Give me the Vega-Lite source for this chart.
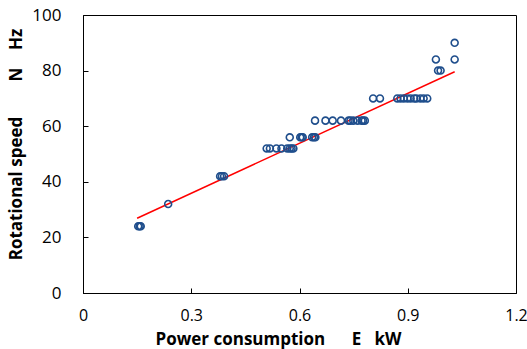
{
  "$schema": "https://vega.github.io/schema/vega-lite/v6.json",
  "autosize": {"type": "none"},
  "width": 433,
  "height": 278,
  "padding": {"left": 83, "top": 15, "right": 11, "bottom": 56},
  "background": "white",
  "config": {
    "view": {"stroke": "black", "strokeWidth": 1},
    "font": "Open Sans"
  },
  "datasets": {
    "pts": [
      {"E": 0.153, "N": 24}, {"E": 0.157, "N": 24}, {"E": 0.160, "N": 24},
      {"E": 0.236, "N": 32},
      {"E": 0.380, "N": 42}, {"E": 0.385, "N": 42}, {"E": 0.391, "N": 42},
      {"E": 0.509, "N": 52}, {"E": 0.518, "N": 52}, {"E": 0.536, "N": 52}, {"E": 0.550, "N": 52},
      {"E": 0.566, "N": 52}, {"E": 0.573, "N": 52}, {"E": 0.578, "N": 52}, {"E": 0.583, "N": 52},
      {"E": 0.573, "N": 56},
      {"E": 0.602, "N": 56}, {"E": 0.606, "N": 56}, {"E": 0.609, "N": 56},
      {"E": 0.635, "N": 56}, {"E": 0.640, "N": 56}, {"E": 0.644, "N": 56},
      {"E": 0.643, "N": 62}, {"E": 0.672, "N": 62}, {"E": 0.692, "N": 62}, {"E": 0.715, "N": 62},
      {"E": 0.736, "N": 62}, {"E": 0.741, "N": 62}, {"E": 0.749, "N": 62}, {"E": 0.761, "N": 62},
      {"E": 0.772, "N": 62}, {"E": 0.776, "N": 62}, {"E": 0.781, "N": 62},
      {"E": 0.804, "N": 70}, {"E": 0.823, "N": 70},
      {"E": 0.871, "N": 70}, {"E": 0.880, "N": 70}, {"E": 0.889, "N": 70}, {"E": 0.899, "N": 70},
      {"E": 0.908, "N": 70}, {"E": 0.918, "N": 70}, {"E": 0.924, "N": 70}, {"E": 0.935, "N": 70},
      {"E": 0.944, "N": 70}, {"E": 0.954, "N": 70},
      {"E": 0.978, "N": 84},
      {"E": 0.984, "N": 80}, {"E": 0.991, "N": 80},
      {"E": 1.030, "N": 90}, {"E": 1.030, "N": 84}
    ],
    "fit": [
      {"E": 0.150, "N": 26.9},
      {"E": 1.030, "N": 79.6}
    ]
  },
  "layer": [
    {
      "data": {"name": "fit"},
      "mark": {"type": "line", "color": "#FF0000", "strokeWidth": 1.5},
      "encoding": {
        "x": {"field": "E", "type": "quantitative"},
        "y": {"field": "N", "type": "quantitative"}
      }
    },
    {
      "data": {"name": "pts"},
      "mark": {"type": "point", "shape": "circle", "filled": false, "color": "#1F4E8C", "strokeWidth": 1.6, "size": 48, "opacity": 1},
      "encoding": {
        "x": {
          "field": "E", "type": "quantitative",
          "scale": {"domain": [0, 1.2], "nice": false, "zero": false},
          "axis": {
            "values": [0, 0.3, 0.6, 0.9, 1.2],
            "labelExpr": "datum.value == 0 ? '0' : format(datum.value, '.1f')",
            "grid": false,
            "domainColor": "black",
            "tickColor": "black",
            "tickSize": -5,
            "labelPadding": 19,
            "labelFontSize": 16,
            "labelColor": "black",
            "labelFlush": false,
            "labelOverlap": false,
            "title": "Power consumption\u00a0\u00a0\u00a0\u00a0\u00a0\u00a0E\u00a0\u00a0\u00a0kW",
            "titleFontSize": 17,
            "titleFontWeight": "bold",
            "titleColor": "black",
            "titleX": 195,
            "titleY": 51,
            "titleBaseline": "alphabetic"
          }
        },
        "y": {
          "field": "N", "type": "quantitative",
          "scale": {"domain": [0, 100], "nice": false},
          "axis": {
            "values": [0, 20, 40, 60, 80, 100],
            "grid": false,
            "domainColor": "black",
            "tickColor": "black",
            "tickSize": -5,
            "labelPadding": 27,
            "labelFontSize": 17,
            "labelColor": "black",
            "labelFlush": false,
            "labelOverlap": false,
            "title": "Rotational speed\u00a0\u00a0\u00a0\u00a0\u00a0\u00a0\u00a0\u00a0N\u00a0\u00a0\u00a0\u00a0Hz",
            "titleFontSize": 17,
            "titleFontWeight": "bold",
            "titleColor": "black",
            "titleY": 129,
            "titleX": -58
          }
        }
      }
    }
  ]
}
